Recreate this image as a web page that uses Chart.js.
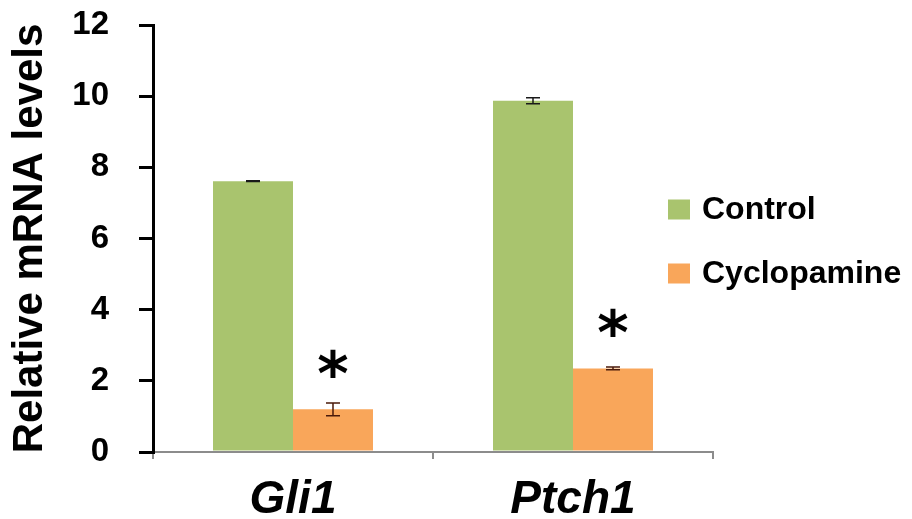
<!DOCTYPE html>
<html>
<head>
<meta charset="utf-8">
<script src="https://cdn.jsdelivr.net/npm/chart.js@4/dist/chart.umd.min.js"></script>
<style>
  html, body { margin: 0; padding: 0; background: #fff; }
  canvas { display: block; }
</style>
</head>
<body>
<canvas id="chart" width="912" height="519"></canvas>
<script>
// Data
const genes = ['Gli1', 'Ptch1'];
const seriesNames = ['Control', 'Cyclopamine'];
const controlValues = [7.61, 9.87];
const cyclopamineValues = [1.2, 2.35];
const controlErrors = [0.01, 0.085];
const cyclopamineErrors = [0.18, 0.04];
const cyclopamineSignificant = [true, true];
const yTicks = [0, 2, 4, 6, 8, 10, 12];

const green = '#a9c46e';
const orange = '#f9a65a';
const fontFamily = '"Liberation Sans", Arial, sans-serif';

const errors = [controlErrors, cyclopamineErrors];
const errorColors = ['#1a1a1a', '#4a1a0a'];
const marks = [[false, false], cyclopamineSignificant];

// Error bars + significance stars
const errorBarPlugin = {
  id: 'errorBars',
  afterDatasetsDraw(chart) {
    const ctx = chart.ctx;
    const yScale = chart.scales.y;
    chart.data.datasets.forEach((ds, i) => {
      const meta = chart.getDatasetMeta(i);
      meta.data.forEach((bar, j) => {
        const v = ds.data[j];
        const e = errors[i][j];
        const top = yScale.getPixelForValue(v + e);
        const bottom = yScale.getPixelForValue(v - e);
        ctx.save();
        ctx.strokeStyle = errorColors[i];
        ctx.lineWidth = 1.5;
        ctx.beginPath();
        ctx.moveTo(bar.x, top);
        ctx.lineTo(bar.x, bottom);
        ctx.moveTo(bar.x - 7, top);
        ctx.lineTo(bar.x + 7, top);
        ctx.moveTo(bar.x - 7, bottom);
        ctx.lineTo(bar.x + 7, bottom);
        ctx.stroke();
        if (marks[i][j]) {
          ctx.fillStyle = '#000';
          ctx.font = 'bold 60px "DejaVu Sans", sans-serif';
          ctx.textAlign = 'center';
          ctx.textBaseline = 'alphabetic';
          const m = ctx.measureText('*');
          const centre = bar.y - 46;
          const baseline = centre - (m.actualBoundingBoxDescent - m.actualBoundingBoxAscent) / 2;
          ctx.fillText('*', bar.x, baseline);
        }
        ctx.restore();
      });
    });
  }
};

// Legend on the right, drawn by hand
const sideLegendPlugin = {
  id: 'sideLegend',
  afterDraw(chart) {
    const ctx = chart.ctx;
    const area = chart.chartArea;
    const x = area.right - 45;
    const midY = (area.top + area.bottom) / 2 + 3;
    const gap = 64;
    chart.data.datasets.forEach((ds, i) => {
      const cy = midY - gap / 2 + i * gap;
      ctx.save();
      ctx.fillStyle = ds.backgroundColor;
      ctx.fillRect(x, cy - 10, 22, 20);
      ctx.fillStyle = '#000';
      ctx.font = 'bold 32px ' + fontFamily;
      ctx.textAlign = 'left';
      ctx.textBaseline = 'middle';
      ctx.fillText(ds.label, x + 34, cy + 1);
      ctx.restore();
    });
  }
};

new Chart(document.getElementById('chart'), {
  type: 'bar',
  data: {
    labels: genes,
    datasets: [
      {
        label: seriesNames[0],
        data: controlValues,
        backgroundColor: green,
        borderWidth: 0,
        barPercentage: 1,
        categoryPercentage: 0.5714
      },
      {
        label: seriesNames[1],
        data: cyclopamineValues,
        backgroundColor: orange,
        borderWidth: 0,
        barPercentage: 1,
        categoryPercentage: 0.5714
      }
    ]
  },
  options: {
    responsive: false,
    animation: false,
    layout: {
      padding: { top: 25, right: 199, left: 0, bottom: 0 }
    },
    plugins: {
      legend: { display: false },
      tooltip: { enabled: false }
    },
    scales: {
      x: {
        offset: true,
        grid: {
          offset: true,
          drawOnChartArea: false,
          color: '#8c8c8c',
          lineWidth: 2,
          tickLength: 7
        },
        border: { color: '#8c8c8c', width: 2 },
        ticks: {
          color: '#000',
          padding: 14,
          font: { family: fontFamily, size: 46, weight: 'bold', style: 'italic' }
        },
        afterFit(scale) { scale.height = 67; }
      },
      y: {
        min: 0,
        max: 12,
        afterBuildTicks(scale) {
          scale.ticks = yTicks.map(v => ({ value: v }));
        },
        grid: {
          drawOnChartArea: false,
          color: '#000',
          lineWidth: 3,
          tickLength: 14
        },
        border: { color: '#000', width: 3 },
        ticks: {
          color: '#000',
          padding: 30,
          font: { family: fontFamily, size: 33, weight: 'bold' }
        },
        title: {
          display: true,
          text: 'Relative mRNA levels',
          color: '#000',
          padding: { top: 5, bottom: 0 },
          font: { family: fontFamily, size: 42, weight: 'bold' }
        },
        afterFit(scale) {
          scale.width = 153;
          scale.paddingTop = 0;
          scale.paddingBottom = 0;
        }
      }
    }
  },
  plugins: [errorBarPlugin, sideLegendPlugin]
});
</script>
</body>
</html>
